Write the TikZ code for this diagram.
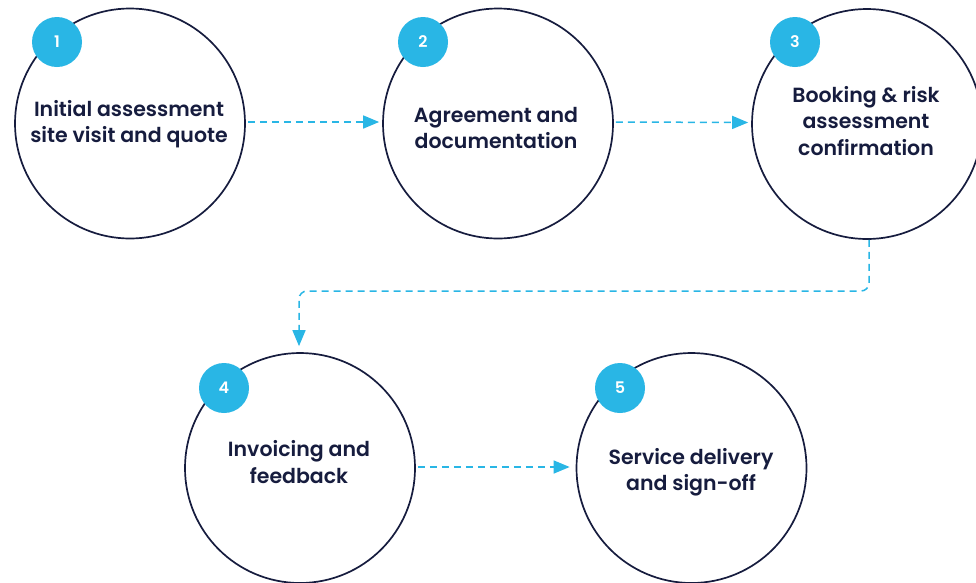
\documentclass[tikz,border=0pt]{standalone}
\usepackage{fontspec}
\setmainfont{Poppins}[BoldFont={Poppins SemiBold}]
\usetikzlibrary{arrows.meta}
\definecolor{navy}{HTML}{161C3E}
\definecolor{cyanb}{HTML}{29B6E5}
\begin{document}
\begin{tikzpicture}[x=1pt,y=-1pt,
  stepcircle/.style={circle,draw=navy,line width=1.7pt,minimum size=230pt,inner sep=0pt,fill=white},
  badge/.style={circle,fill=cyanb,minimum size=50pt,inner sep=0pt,text=white,font=\fontsize{16}{18}\selectfont\bfseries},
  steptext/.style={align=center,text=navy,font=\fontsize{20.5}{26.5}\selectfont\bfseries,inner sep=0pt},
  flow/.style={draw=cyanb,line width=1.5pt,dash pattern=on 7pt off 5pt,-{Triangle[length=16pt,width=13pt]}}
]
\useasboundingbox (0,0) rectangle (976,582);
\node[stepcircle] (c1) at (130,123.5) {};
\node[stepcircle] (c2) at (498,123.5) {};
\node[stepcircle] (c3) at (867,124) {};
\node[stepcircle] (c4) at (300,468) {};
\node[stepcircle] (c5) at (691.5,468) {};
\node[badge] (b1) at (57,42) {1};
\node[badge] (b2) at (423,42) {2};
\node[badge] (b3) at (795,42) {3};
\node[badge] (b4) at (224,388) {4};
\node[badge] (b5) at (620,388) {5};
\node[steptext] (t1) at (129,124) {Initial assessment\\site visit and quote};
\node[steptext] (t2) at (496,128) {Agreement and\\documentation};
\node[steptext] (t3) at (866,121) {Booking \& risk\\assessment\\confirmation};
\node[steptext] (t4) at (299,462) {Invoicing and\\feedback};
\node[steptext] (t5) at (691,472) {Service delivery\\and sign-off};
\coordinate (k1) at (869,291);
\coordinate (k2) at (299,291);
\draw[flow,shorten <=2pt,shorten >=3pt] ([yshift=1.5pt]c1.east) -- ([yshift=1.5pt]c2.west);
\draw[flow,shorten <=2pt,shorten >=3pt] ([yshift=1.5pt]c2.east) -- ([yshift=1.5pt]c3.west);
\draw[flow,rounded corners=8pt,shorten >=6pt] (c3.south -| k1) -- (k1) -- (k2) -- (k2 |- c4.north);
\draw[flow,shorten <=2pt,shorten >=6pt] ([yshift=1pt]c4.east) -- ([yshift=1pt]c5.west);
\end{tikzpicture}
\end{document}
